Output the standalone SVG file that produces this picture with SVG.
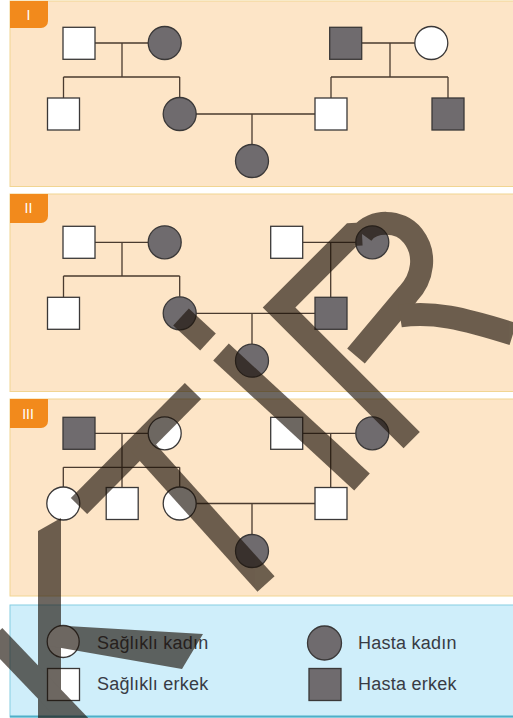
<svg xmlns="http://www.w3.org/2000/svg" width="513" height="718" viewBox="0 0 513 718">
<defs>
<style>
.panel{fill:#fde5c7;stroke:#f1d592;stroke-width:1}
.tab{fill:#f28a1c}
.num{fill:#ffffff;font-family:"Liberation Sans",Arial,sans-serif;font-size:14px;text-anchor:middle}
.w{fill:#ffffff;stroke:#3a3838;stroke-width:1.3}
.g{fill:#6f6b6e;stroke:#3a3838;stroke-width:1.3}
.ln{fill:none;stroke:#4a3b2f;stroke-width:1.3}
.lg{font-family:"Liberation Sans",Arial,sans-serif;font-size:18px;letter-spacing:0.25px;fill:#383b44}
.wm{fill:none;stroke:#1c1209;stroke-width:23;stroke-linecap:butt;stroke-linejoin:miter}
</style>
</defs>
<rect width="513" height="718" fill="#ffffff"/>
<g id="panels">
<rect class="panel" x="10" y="1" width="510" height="185.5"/>
<path class="tab" d="M10,1 h38 v20 a7,7 0 0 1 -7,7 h-31 z"/>
<text class="num" x="28.5" y="20">I</text>
<rect class="panel" x="10" y="194" width="510" height="197.5"/>
<path class="tab" d="M10,194 h38 v22 a7,7 0 0 1 -7,7 h-31 z"/>
<text class="num" x="28.5" y="213">II</text>
<rect class="panel" x="10" y="399" width="510" height="197"/>
<path class="tab" d="M10,399 h38 v22 a7,7 0 0 1 -7,7 h-31 z"/>
<text class="num" x="28" y="419">III</text>
<rect x="10" y="605" width="510" height="112" fill="#cfeefa" stroke="#86cde2" stroke-width="1"/>
<line x1="10" y1="716.5" x2="513" y2="716.5" stroke="#4fafc8" stroke-width="2"/>
</g>
<g id="connectors">
<!-- Panel I -->
<path class="ln" d="M95,43 H148 M122,43 V77 M63.5,77 H179.7 M63.5,77 V98 M179.7,77 V97.5 M196,114 H315 M252,114 V144.5 M362,43 H415 M390,43 V77 M331,77 H448 M331,77 V98 M448,77 V98"/>
<!-- Panel II -->
<path class="ln" d="M95,242.3 H148 M122,242.3 V276 M63.5,276 H179.7 M63.5,276 V297.3 M179.7,276 V296.8 M196,313.3 H315 M252,313.3 V344 M302.7,242.3 H355.8 M330.7,242.3 V297.3"/>
<!-- Panel III -->
<path class="ln" d="M95,433.3 H148 M122,433.3 V487.5 M63.3,467.3 H179.7 M63.3,467.3 V487 M179.7,467.3 V487 M196,503.5 H315 M252,503.5 V534.5 M302.7,433.3 H355.8 M330.7,433.3 V487.5"/>
</g>
<g id="pedigree-I">
<rect id="I-1" class="w" x="63" y="27.3" width="32" height="32"/>
<circle id="I-2" class="g" cx="164.7" cy="43" r="16.5"/>
<rect id="I-3" class="w" x="47.5" y="98" width="32" height="32"/>
<circle id="I-4" class="g" cx="179.7" cy="114" r="16.5"/>
<circle id="I-5" class="g" cx="252" cy="161" r="16.5"/>
<rect id="I-6" class="g" x="329.7" y="27.3" width="32" height="32"/>
<circle id="I-7" class="w" cx="431.3" cy="43" r="16.5"/>
<rect id="I-8" class="w" x="315" y="98" width="32" height="32"/>
<rect id="I-9" class="g" x="432" y="98" width="32" height="32"/>
</g>
<g id="pedigree-II">
<rect id="II-1" class="w" x="63" y="226.3" width="32" height="32"/>
<circle id="II-2" class="g" cx="164.7" cy="242.3" r="16.5"/>
<rect id="II-3" class="w" x="47.5" y="297.3" width="32" height="32"/>
<circle id="II-4" class="g" cx="179.7" cy="313.3" r="16.5"/>
<circle id="II-5" class="g" cx="252" cy="360.7" r="16.5"/>
<rect id="II-6" class="w" x="270.7" y="226.3" width="32" height="32"/>
<circle id="II-7" class="g" cx="372.3" cy="242.3" r="16.5"/>
<rect id="II-8" class="g" x="315" y="297.3" width="32" height="32"/>
</g>
<g id="pedigree-III">
<rect id="III-1" class="g" x="63" y="417.3" width="32" height="32"/>
<circle id="III-2" class="w" cx="164.7" cy="433.3" r="16.5"/>
<circle id="III-3" class="w" cx="63.3" cy="503.5" r="16.5"/>
<rect id="III-4" class="w" x="106.2" y="487.5" width="32" height="32"/>
<circle id="III-5" class="w" cx="179.7" cy="503.5" r="16.5"/>
<circle id="III-6" class="g" cx="252" cy="551" r="16.5"/>
<rect id="III-7" class="w" x="270.7" y="417.3" width="32" height="32"/>
<circle id="III-8" class="g" cx="372.3" cy="433.3" r="16.5"/>
<rect id="III-9" class="w" x="315" y="487.5" width="32" height="32"/>
</g>
<g id="legend">
<g id="leg-healthy-female"><circle class="w" cx="63.2" cy="641.5" r="16"/><text class="lg" x="97" y="648.5">Sağlıklı kadın</text></g>
<g id="leg-healthy-male"><rect class="w" x="47.5" y="668.5" width="32" height="32"/><text class="lg" x="97" y="690">Sağlıklı erkek</text></g>
<g id="leg-affected-female"><circle class="g" cx="324.5" cy="643" r="17"/><text class="lg" x="358" y="649.3">Hasta kadın</text></g>
<g id="leg-affected-male"><rect class="g" x="309" y="668.5" width="32" height="32"/><text class="lg" x="358" y="690">Hasta erkek</text></g>
</g>
<g id="watermark" opacity="0.64">
<path class="wm" d="M362,234 C372,220 400,219 413,236 C427,254 423,278 408,294 L356,356"/>
<path class="wm" d="M411.7,440.2 L279,307.5 L352,234.5 L362,234"/>
<path class="wm" d="M400,316 C432,311 462,318 513,334"/>
<path class="wm" d="M181,317 L208,342"/>
<path class="wm" d="M221,352 L362,482"/>
<path class="wm" d="M79,506 L193,391"/>
<path class="wm" d="M140,444 L266,584"/>
<polygon points="38,531 61,518 61,718 38,718" fill="#1c1209"/>
<path class="wm" d="M-6,636 L80,726"/>
<polygon points="50,625 203,634 182,669 50,646" fill="#1c1209"/>
</g>
</svg>
